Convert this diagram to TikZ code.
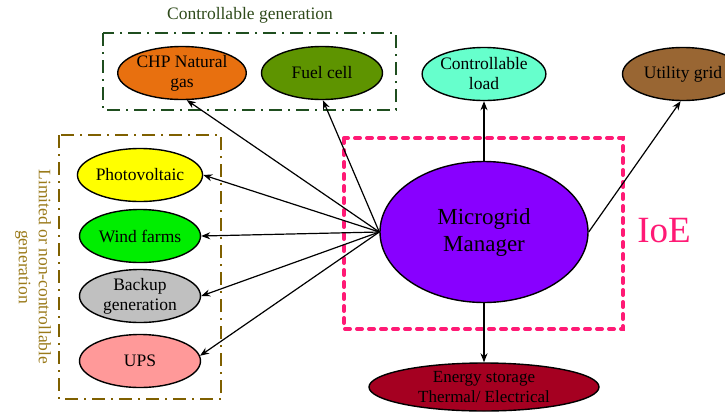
\documentclass[tikz,border=0pt]{standalone}
\usepackage{fontspec}
\setmainfont{Liberation Serif}
\usetikzlibrary{arrows.meta,shapes.geometric}
\definecolor{chpc}{HTML}{E8700F}
\definecolor{fuelc}{HTML}{5E9400}
\definecolor{loadc}{HTML}{66FFCC}
\definecolor{utilc}{HTML}{996633}
\definecolor{pvc}{HTML}{FFFF00}
\definecolor{windc}{HTML}{00EE00}
\definecolor{backc}{HTML}{C0C0C0}
\definecolor{upsc}{HTML}{FF9999}
\definecolor{mgrc}{HTML}{8800FF}
\definecolor{storc}{HTML}{A50021}
\definecolor{pinkc}{HTML}{FF1A75}
\definecolor{dgreen}{HTML}{1F4E1F}
\definecolor{dgtext}{HTML}{2E4A1A}
\definecolor{olivebox}{HTML}{7F6000}
\definecolor{olivetext}{HTML}{9A7A1A}
\tikzset{
  ell/.style={ellipse, draw=black, line width=1.4pt, inner sep=0pt, minimum width=121pt, minimum height=53pt, align=center, font=\fontsize{17.5}{20}\selectfont},
  conn/.style={line width=1.2pt, -{Stealth[length=9pt,width=7pt]}},
  dashdotbox/.style={line width=2.6pt, dash pattern=on 13pt off 6pt on 2pt off 6pt},
  pinkbox/.style={draw=pinkc, line width=4pt, line cap=round, dash pattern=on 5pt off 7pt}
}
\begin{document}
\begin{tikzpicture}[x=1pt,y=-1pt]
\useasboundingbox (0,0) rectangle (725,413);
\begin{scope}
\clip (0,0) rectangle (725,413);
% group boxes
\draw[dashdotbox, draw=dgreen] (103,33) rectangle (396,110);
\node[text=dgtext, font=\fontsize{17.5}{20}\selectfont] (cgtitle) at (250,15) {Controllable generation};
\draw[dashdotbox, draw=olivebox] (59,135) rectangle (221,399);
\node[text=olivetext, rotate=-90, align=center, font=\fontsize{17.5}{20}\selectfont] (lgtitle) at (33,267) {Limited or non-controllable\\generation};
\draw[pinkbox] (344,138) rectangle (623,329);
\node[text=pinkc, font=\fontsize{37}{40}\selectfont] (ioe) at (664,231) {IoE};
% nodes
\node[ell, fill=chpc] (chp) at (182,73) {CHP Natural\\gas};
\node[ell, fill=fuelc] (fuel) at (322,73) {Fuel cell};
\node[ell, fill=loadc] (load) at (484,74) {Controllable\\load};
\node[ell, fill=utilc] (util) at (683,74) {Utility grid};
\node[ell, fill=pvc] (pv) at (140,175) {Photovoltaic};
\node[ell, fill=windc] (wind) at (140,236) {Wind farms};
\node[ell, fill=backc] (back) at (140,296) {Backup\\generation};
\node[ell, fill=upsc] (ups) at (140,361) {UPS};
\node[ell, fill=mgrc, minimum width=208pt, minimum height=141pt, font=\fontsize{23}{27}\selectfont] (mgr) at (484,232) {Microgrid\\Manager};
\node[ell, fill=storc, minimum width=230pt, minimum height=48pt, font=\fontsize{17}{20}\selectfont] (stor) at (484,387) {Energy storage\\Thermal/ Electrical};
% connectors
\draw[conn] (mgr.west) -- (chp.-80);
\draw[conn] (mgr.west) -- (fuel.-88);
\draw[conn] (mgr.west) -- (pv.east);
\draw[conn] (mgr.west) -- (wind.east);
\draw[conn] (mgr.west) -- (back.east);
\draw[conn] (mgr.west) -- (ups.5);
\draw[conn] (mgr.north) -- (load.south);
\draw[conn] (mgr.east) -- (util.-95);
\draw[conn] (mgr.south) -- (stor.north);
\end{scope}
\end{tikzpicture}
\end{document}
